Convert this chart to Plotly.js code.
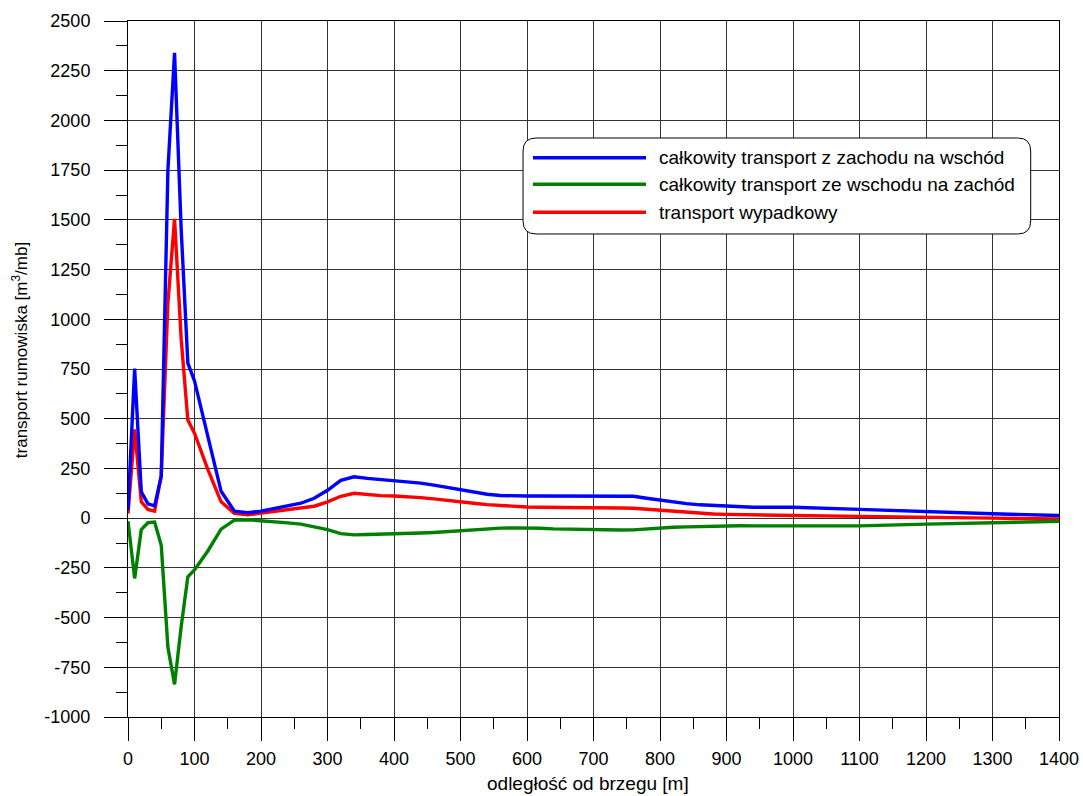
<!DOCTYPE html>
<html>
<head>
<meta charset="utf-8">
<script src="https://cdn.plot.ly/plotly-3.0.1.min.js"></script>
<style>
  html, body { margin: 0; padding: 0; background: #ffffff; }
  #chart { width: 1083px; height: 796px; }
</style>
</head>
<body>
<div id="chart"></div>
<script>
// Distance from the shore [m]
const distance = [0, 10, 20, 30, 40, 50, 60, 70, 80, 90, 100, 120, 140, 160, 180,
  200, 220, 240, 260, 280, 300, 320, 340, 360, 380, 400, 420, 440, 460, 480,
  500, 520, 540, 560, 580, 600, 620, 640, 660, 680, 700, 720, 740, 760, 780,
  800, 820, 840, 860, 880, 900, 920, 940, 960, 980, 1000, 1100, 1200, 1300, 1400];

// Total transport west -> east [m3/mb]
const westToEast = [40, 752, 132, 72, 62, 210, 1750, 2340, 1450, 780, 690, 410, 135, 35, 27,
  35, 48, 60, 75, 100, 140, 190, 208, 200, 194, 191, 185, 176, 166, 155,
  144, 132, 120, 114, 111, 111, 111, 111, 112, 111, 111, 112, 112, 110, 100,
  90, 80, 73, 67, 63, 59, 56, 55, 55, 55, 55, 44, 32, 22, 13];

// Total transport east -> west [m3/mb]
const eastToWest = [-15, -303, -57, -23, -20, -136, -650, -836, -545, -295, -260, -165, -55, -10, -8,
  -12, -17, -24, -30, -42, -58, -78, -84, -82, -81, -80, -78, -75, -72, -67,
  -61, -56, -52, -50, -49, -49, -51, -54, -56, -57, -58, -59, -60, -59, -54,
  -49, -46, -44, -42, -40, -39, -38, -39, -39, -40, -40, -39, -30, -23, -16];

// Resultant transport [m3/mb]
const resultant = [23, 446, 82, 44, 35, 216, 1080, 1505, 900, 493, 427, 245, 82, 24, 17,
  25, 32, 40, 48, 60, 82, 110, 125, 118, 113, 111, 108, 103, 97, 91,
  84, 75, 68, 63, 58, 56, 55, 55, 54, 53, 52, 52, 51, 50, 45,
  39, 34, 29, 25, 21, 19, 17, 15, 14, 13, 13, 9, 3, 0, -4];

// Axis tick values and their labels (plain hyphen for negatives)
const xTickVals = [0, 100, 200, 300, 400, 500, 600, 700, 800, 900, 1000, 1100, 1200, 1300, 1400];
const xTickText = ['0', '100', '200', '300', '400', '500', '600', '700', '800', '900', '1000', '1100', '1200', '1300', '1400'];
const yTickVals = [-1000, -750, -500, -250, 0, 250, 500, 750, 1000, 1250, 1500, 1750, 2000, 2250, 2500];
const yTickText = ['-1000', '-750', '-500', '-250', '0', '250', '500', '750', '1000', '1250', '1500', '1750', '2000', '2250', '2500'];

const seriesNames = [
  'całkowity transport z zachodu na wschód',
  'całkowity transport ze wschodu na zachód',
  'transport wypadkowy'
];
const seriesColors = ['#0000ff', '#008000', '#ff0000'];
const seriesValues = [westToEast, eastToWest, resultant];

const traces = seriesValues.map((vals, i) => ({
  type: 'scatter',
  mode: 'lines',
  x: distance,
  y: vals,
  name: seriesNames[i],
  line: { color: seriesColors[i], width: 3.4 },
  hoverinfo: 'x+y',
  showlegend: false
}));
// draw order: red, green, blue on top
const ordered = [traces[2], traces[1], traces[0]];

const FONT = '"Liberation Sans", Arial, Helvetica, sans-serif';

// Legend box drawn with shapes (rounded corners) in paper coordinates
const box = { x0: 0.4243, x1: 0.9696, y0: 0.6940, y1: 0.8319 };
const rx = 0.0140, ry = 0.0187;
const roundedPath =
  `M ${box.x0 + rx},${box.y1} L ${box.x1 - rx},${box.y1} ` +
  `Q ${box.x1},${box.y1} ${box.x1},${box.y1 - ry} L ${box.x1},${box.y0 + ry} ` +
  `Q ${box.x1},${box.y0} ${box.x1 - rx},${box.y0} L ${box.x0 + rx},${box.y0} ` +
  `Q ${box.x0},${box.y0} ${box.x0},${box.y0 + ry} L ${box.x0},${box.y1 - ry} ` +
  `Q ${box.x0},${box.y1} ${box.x0 + rx},${box.y1} Z`;

const legendRows = [0.8036, 0.7654, 0.7251];
const shapes = [{
  type: 'path', xref: 'paper', yref: 'paper', path: roundedPath,
  fillcolor: '#ffffff', line: { color: '#000000', width: 1 }, layer: 'above'
}];
const annotations = [];
legendRows.forEach((yy, i) => {
  shapes.push({
    type: 'line', xref: 'paper', yref: 'paper',
    x0: 0.4350, x1: 0.5564, y0: yy, y1: yy,
    line: { color: seriesColors[i], width: 3.5 }, layer: 'above'
  });
  annotations.push({
    xref: 'paper', yref: 'paper', x: 0.5682, y: yy,
    xanchor: 'left', yanchor: 'middle', showarrow: false,
    text: seriesNames[i], font: { family: FONT, size: 19, color: '#000000' }
  });
});

// Axis titles
annotations.push({
  xref: 'paper', yref: 'paper', x: 0.494, y: -0.095,
  xanchor: 'center', yanchor: 'middle', showarrow: false,
  text: 'odległość od brzegu [m]', font: { family: FONT, size: 19, color: '#000000' }
});
annotations.push({
  xref: 'paper', yref: 'paper', x: -0.116, y: 0.527,
  xanchor: 'center', yanchor: 'middle', showarrow: false, textangle: -90,
  text: 'transport rumowiska [m<sup>3</sup>/mb]', font: { family: FONT, size: 17, color: '#000000' }
});

const layout = {
  width: 1083,
  height: 796,
  margin: { l: 128, r: 24, t: 21, b: 79, pad: 0 },
  paper_bgcolor: '#ffffff',
  plot_bgcolor: '#ffffff',
  font: { family: FONT, size: 18, color: '#000000' },
  showlegend: false,
  xaxis: {
    range: [0, 1400],
    tickmode: 'array', tickvals: xTickVals, ticktext: xTickText,
    ticks: 'outside', ticklen: 23, tickwidth: 1, tickcolor: '#000000',
    ticklabelstandoff: 2,
    minor: { tick0: 0, dtick: 50, ticks: 'outside', ticklen: 11, tickwidth: 1, tickcolor: '#000000', showgrid: false },
    showgrid: true, gridcolor: '#333333', gridwidth: 1,
    zeroline: false,
    showline: true, linecolor: '#000000', linewidth: 1, mirror: true,
    tickfont: { family: FONT, size: 18, color: '#000000' }
  },
  yaxis: {
    range: [-1000, 2500],
    tickmode: 'array', tickvals: yTickVals, ticktext: yTickText,
    ticks: 'outside', ticklen: 23, tickwidth: 1, tickcolor: '#000000',
    ticklabelstandoff: 10,
    minor: { tick0: 0, dtick: 125, ticks: 'outside', ticklen: 11, tickwidth: 1, tickcolor: '#000000', showgrid: false },
    showgrid: true, gridcolor: '#333333', gridwidth: 1,
    zeroline: false,
    showline: true, linecolor: '#000000', linewidth: 1, mirror: true,
    tickfont: { family: FONT, size: 18, color: '#000000' }
  },
  shapes: shapes,
  annotations: annotations
};

Plotly.newPlot('chart', ordered, layout, { displayModeBar: false, staticPlot: true });
</script>
</body>
</html>
